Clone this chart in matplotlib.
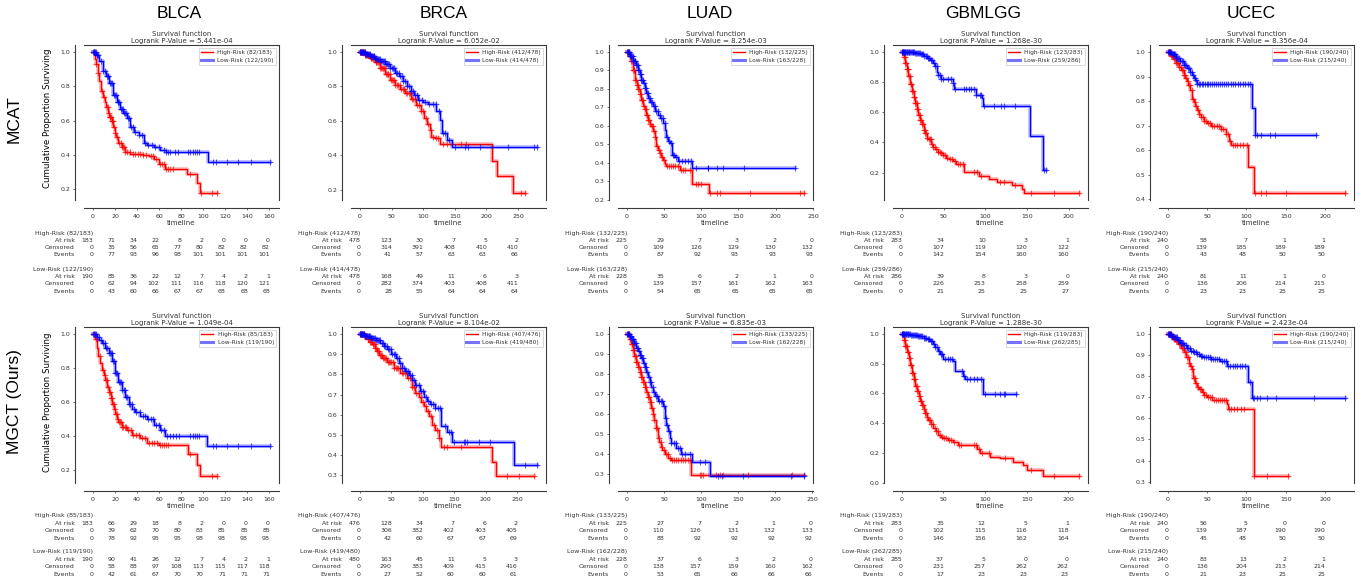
import numpy as np
import matplotlib
matplotlib.use("Agg")
import matplotlib.pyplot as plt
from matplotlib.lines import Line2D
from matplotlib.ticker import MultipleLocator
import matplotlib.transforms as mtrans

# ---------------- labels ----------------
cancers = ["BLCA", "BRCA", "LUAD", "GBMLGG", "UCEC"]
models = ["MCAT", "MGCT (Ours)"]
pvals_mcat = ["5.441e-04", "6.052e-02", "8.254e-03", "1.268e-30", "8.356e-04"]
pvals_mgct = ["1.049e-04", "8.104e-02", "6.835e-03", "1.288e-30", "2.423e-04"]
hi_labels_mcat = ["High-Risk (82/183)", "High-Risk (412/478)", "High-Risk (132/225)", "High-Risk (123/283)", "High-Risk (190/240)"]
lo_labels_mcat = ["Low-Risk (122/190)", "Low-Risk (414/478)", "Low-Risk (163/228)", "Low-Risk (259/286)", "Low-Risk (215/240)"]
hi_labels_mgct = ["High-Risk (85/183)", "High-Risk (407/476)", "High-Risk (133/225)", "High-Risk (119/283)", "High-Risk (190/240)"]
lo_labels_mgct = ["Low-Risk (119/190)", "Low-Risk (419/480)", "Low-Risk (162/228)", "Low-Risk (262/285)", "Low-Risk (215/240)"]
xticks_blca = [0, 20, 40, 60, 80, 100, 120, 140, 160]
xticks_brca = [0, 50, 100, 150, 200, 250]
xticks_luad = [0, 50, 100, 150, 200, 250]
xticks_gbmlgg = [0, 50, 100, 150, 200]
xticks_ucec = [0, 50, 100, 150, 200]
ystep_mcat = [0.2, 0.2, 0.1, 0.2, 0.1]
ystep_mgct = [0.2, 0.1, 0.1, 0.2, 0.1]

# ---------------- MCAT curves ----------------
blca_mcat_hi_t = [0, 1.5, 3, 4.6, 6, 7.7, 9, 10.8, 12, 13.8, 15, 16.9, 18.5, 20, 21, 23, 26, 29, 34, 45, 51, 55, 60, 65, 85, 94, 97]
blca_mcat_hi_s = [1.0, 0.96, 0.93, 0.88, 0.83, 0.77, 0.74, 0.71, 0.68, 0.645, 0.62, 0.60, 0.565, 0.53, 0.506, 0.466, 0.447, 0.417, 0.403, 0.40, 0.39, 0.377, 0.348, 0.318, 0.285, 0.236, 0.177]
blca_mcat_hi_c = [1, 3, 5, 8, 10.5, 12.5, 13.5, 14.5, 15.2, 15.8, 16.4, 17.1, 17.6, 18.2, 19.3, 20.5, 22.2, 24, 25.1, 26.3, 27.2, 28.4, 29.5, 31, 33.4, 36, 38.2, 40.5, 42.3, 45.6, 48, 52.4, 54.8, 57.5, 60.8, 62.5, 64, 66.2, 68.3, 70.1, 72.4, 88, 98.3, 108, 112.9]
blca_mcat_lo_t = [0, 3, 6, 9, 12, 15, 18.5, 21.5, 24.6, 27.7, 30.8, 34, 37, 41.5, 46, 49, 55, 61, 66, 104]
blca_mcat_lo_s = [1.0, 0.98, 0.95, 0.89, 0.86, 0.82, 0.75, 0.71, 0.67, 0.645, 0.615, 0.565, 0.535, 0.515, 0.47, 0.456, 0.445, 0.43, 0.417, 0.357]
blca_mcat_lo_c = [0.4, 0.9, 1.4, 2.1, 2.6, 3.4, 4.2, 5.1, 7.3, 9.5, 11.2, 12.4, 13.3, 14.1, 15.2, 16.3, 17.4, 19.2, 20.1, 21.3, 22.4, 23.2, 24.1, 25.3, 26.2, 27.1, 28.3, 29.2, 30.4, 31.5, 32.6, 34.3, 36.4, 38.5, 41.8, 44.2, 47.3, 50.1, 53.4, 56.2, 59.5, 64.1, 66.3, 68.4, 70.2, 74.1, 77.4, 86.2, 88.1, 90.3, 92.2, 94.1, 96.3, 109.1, 111.2, 121.3, 131.1, 143.2, 160.6]

brca_mcat_hi_t = [0, 8, 16, 24, 32, 40, 48, 56, 64, 72, 80, 88, 96, 102, 106, 110, 113, 118, 126, 208, 216, 242]
brca_mcat_hi_s = [1.0, 0.985, 0.967, 0.94, 0.905, 0.875, 0.84, 0.81, 0.785, 0.765, 0.73, 0.69, 0.655, 0.615, 0.58, 0.547, 0.508, 0.5, 0.465, 0.37, 0.278, 0.182]
brca_mcat_hi_c = [0.6, 1.2, 2.1, 2.9, 3.8, 4.6, 5.5, 6.3, 7.4, 8.2, 9.1, 10.3, 11.2, 12.4, 13.5, 14.3, 15.6, 16.8, 17.7, 18.9, 20.1, 21.4, 22.6, 23.5, 24.8, 26.1, 27.3, 28.6, 29.9, 31.2, 32.5, 33.8, 35.1, 36.4, 37.8, 39.2, 40.6, 42.1, 43.7, 45.2, 46.9, 48.4, 50.2, 52.1, 54.3, 56.2, 58.4, 60.5, 62.7, 65.1, 67.4, 69.8, 72.3, 74.6, 77.2, 79.5, 82.1, 84.6, 87.3, 90.2, 93.4, 97.1, 100.4, 104.5, 108.2, 111.6, 115.3, 120.4, 124.2, 131.5, 138.3, 159.8, 168.2, 254.5, 260.1]
brca_mcat_lo_t = [0, 8, 16, 24, 32, 40, 48, 56, 62, 68, 74, 80, 86, 92, 100, 108, 121, 126, 129, 137, 145]
brca_mcat_lo_s = [1.0, 0.99, 0.977, 0.962, 0.947, 0.93, 0.905, 0.88, 0.86, 0.83, 0.80, 0.775, 0.75, 0.72, 0.71, 0.70, 0.655, 0.605, 0.53, 0.49, 0.446]
brca_mcat_lo_c = [0.3, 0.8, 1.5, 2.3, 3.1, 3.9, 4.8, 5.7, 6.6, 7.5, 8.6, 9.7, 10.8, 11.9, 13.1, 14.2, 15.4, 16.7, 17.9, 19.2, 20.5, 21.8, 23.1, 24.4, 25.7, 27.1, 28.5, 29.9, 31.3, 32.8, 34.3, 35.8, 37.4, 39.1, 40.8, 42.5, 44.3, 46.2, 48.1, 50.1, 52.2, 54.3, 56.5, 58.8, 61.2, 63.6, 66.1, 68.7, 71.3, 74.1, 77.2, 80.4, 83.5, 86.8, 90.3, 94.1, 98.2, 103.5, 109.4, 114.8, 120.2, 125.1, 131.3, 134.6, 140.2, 150.1, 166.3, 170.4, 189.2, 234.1, 275.4, 280.0]

luad_mcat_hi_t = [0, 3, 6, 8, 10.4, 13, 15, 17, 19.4, 22, 24, 26, 28.4, 31, 33, 35, 37.4, 39.6, 42, 44, 46, 48.6, 51, 53, 71, 87, 111]
luad_mcat_hi_s = [1.0, 0.98, 0.95, 0.90, 0.85, 0.82, 0.80, 0.77, 0.74, 0.71, 0.69, 0.66, 0.63, 0.61, 0.60, 0.57, 0.54, 0.49, 0.47, 0.45, 0.43, 0.415, 0.395, 0.38, 0.36, 0.287, 0.236]
luad_mcat_hi_c = [0.8, 1.9, 2.7, 3.6, 4.5, 5.3, 6.2, 7.1, 8.3, 9.2, 10.1, 11.3, 12.2, 13.4, 14.3, 15.5, 16.4, 17.6, 18.5, 19.7, 20.8, 21.9, 23.1, 24.2, 25.4, 26.5, 27.7, 28.9, 30.1, 31.6, 33.2, 34.8, 36.5, 38.3, 40.2, 42.6, 45.1, 47.8, 50.3, 53.6, 56.4, 59.2, 62.5, 65.3, 68.1, 72.4, 75.6, 78.2, 84.3, 93.1, 96.2, 99.5, 112.3, 121.6, 125.3, 165.2, 233.1, 238.2]
luad_mcat_lo_t = [0, 4, 8.1, 12, 14.9, 17, 19.4, 22, 23.9, 26, 28.4, 31, 35, 38, 42, 45, 48.6, 51, 53, 55, 57.7, 60, 64.4, 69, 88]
luad_mcat_lo_s = [1.0, 0.98, 0.95, 0.93, 0.905, 0.88, 0.85, 0.83, 0.805, 0.78, 0.75, 0.73, 0.705, 0.68, 0.66, 0.64, 0.615, 0.58, 0.54, 0.52, 0.505, 0.44, 0.43, 0.41, 0.37]
luad_mcat_lo_c = [0.3, 0.9, 1.6, 2.4, 3.2, 4.1, 5.0, 5.9, 6.8, 7.7, 8.7, 9.6, 10.6, 11.5, 12.5, 13.5, 14.4, 15.4, 16.4, 17.5, 18.5, 19.6, 20.7, 21.8, 22.9, 24.1, 25.3, 26.6, 27.9, 29.3, 30.8, 32.4, 34.1, 35.9, 37.8, 39.7, 41.8, 43.9, 46.2, 48.5, 50.9, 53.5, 56.1, 58.7, 61.5, 63.8, 66.4, 70.2, 74.3, 78.1, 82.4, 86.3, 93.2, 108.4, 109.6, 121.3, 129.2, 157.4, 226.3]

gbmlgg_mcat_hi_t = [0, 2, 3.9, 6, 7.9, 10, 11.8, 14, 15.7, 18, 19.7, 22, 23.6, 26, 27.6, 30, 31.5, 35, 37.4, 40, 43.3, 47, 49.2, 53, 57, 61, 65, 75, 92.5, 104, 114, 132, 144, 147]
gbmlgg_mcat_hi_s = [1.0, 0.97, 0.93, 0.89, 0.84, 0.79, 0.74, 0.70, 0.66, 0.62, 0.58, 0.55, 0.52, 0.48, 0.46, 0.43, 0.42, 0.39, 0.37, 0.355, 0.34, 0.33, 0.32, 0.30, 0.29, 0.275, 0.26, 0.205, 0.18, 0.155, 0.14, 0.12, 0.094, 0.065]
gbmlgg_mcat_hi_c = [0.7, 1.5, 2.6, 3.4, 4.3, 5.2, 6.1, 6.9, 7.8, 8.6, 9.5, 10.4, 11.3, 12.2, 13.1, 14.0, 14.9, 15.8, 16.7, 17.6, 18.5, 19.4, 20.3, 21.2, 22.1, 23.0, 24.0, 25.0, 26.1, 27.2, 28.3, 29.5, 30.7, 32.0, 33.4, 34.8, 36.3, 37.9, 39.6, 41.4, 43.3, 45.2, 47.4, 49.6, 52.1, 54.7, 57.3, 60.2, 63.4, 66.8, 70.3, 73.5, 86.2, 90.4, 95.1, 117.8, 122.3, 135.2, 154.8, 181.9, 212.6]
gbmlgg_mcat_lo_t = [0, 15, 22, 26, 30, 33.5, 37, 39.4, 42, 43.3, 47.2, 61, 63, 88.6, 96.5, 97.6, 153.5, 169.7]
gbmlgg_mcat_lo_s = [1.0, 0.995, 0.99, 0.975, 0.96, 0.95, 0.93, 0.906, 0.87, 0.85, 0.82, 0.795, 0.755, 0.717, 0.695, 0.64, 0.44, 0.216]
gbmlgg_mcat_lo_c = [0.2, 0.6, 1.1, 1.7, 2.3, 2.9, 3.6, 4.3, 5.0, 5.8, 6.6, 7.4, 8.2, 9.1, 10.0, 10.9, 11.8, 12.8, 13.8, 14.8, 15.9, 17.0, 18.1, 19.3, 20.5, 21.7, 23.0, 24.3, 25.6, 27.0, 28.4, 29.9, 31.4, 33.0, 34.6, 36.3, 38.0, 39.8, 41.6, 43.5, 45.4, 47.5, 49.8, 55.2, 58.4, 61.3, 64.2, 74.1, 77.3, 80.2, 83.4, 86.3, 89.5, 93.2, 95.4, 99.1, 110.2, 118.3, 122.4, 135.1, 170.8, 172.6]

ucec_mcat_hi_t = [0, 4, 7.3, 10, 13.7, 17, 20, 22, 24.4, 26, 28.6, 30.8, 33, 35, 37, 39.3, 42, 45.7, 50, 54.3, 67, 73.5, 77.8, 80, 102.6, 110]
ucec_mcat_hi_s = [1.0, 0.985, 0.97, 0.955, 0.94, 0.925, 0.907, 0.895, 0.88, 0.865, 0.845, 0.81, 0.795, 0.78, 0.765, 0.747, 0.735, 0.72, 0.71, 0.70, 0.685, 0.664, 0.636, 0.62, 0.53, 0.425]
ucec_mcat_hi_c = [0.5, 1.3, 2.2, 3.1, 4.0, 5.0, 6.1, 7.2, 8.4, 9.6, 10.9, 12.2, 13.5, 14.8, 16.1, 17.5, 18.9, 20.4, 21.9, 23.5, 25.1, 26.8, 28.5, 30.3, 32.1, 34.0, 35.9, 37.9, 39.9, 42.1, 44.3, 46.6, 49.0, 51.4, 53.9, 56.5, 59.2, 62.0, 64.8, 67.7, 70.6, 73.6, 76.4, 79.2, 82.3, 85.6, 88.2, 91.4, 95.8, 100.1, 110.3, 118.2, 125.4, 150.6, 225.6]
ucec_mcat_lo_t = [0, 5, 10, 15.8, 20, 24.4, 28, 30.8, 33, 35, 37, 107.7, 110.7]
ucec_mcat_lo_s = [1.0, 0.99, 0.975, 0.962, 0.948, 0.935, 0.92, 0.907, 0.895, 0.886, 0.868, 0.772, 0.66]
ucec_mcat_lo_c = [0.3, 0.9, 1.6, 2.4, 3.2, 4.1, 5.1, 6.1, 7.2, 8.3, 9.5, 10.7, 12.0, 13.3, 14.6, 16.0, 17.4, 18.9, 20.4, 21.9, 23.5, 25.1, 26.8, 28.5, 30.3, 32.1, 34.0, 35.8, 37.6, 39.4, 41.3, 43.2, 45.2, 47.3, 49.4, 51.6, 53.8, 56.1, 58.5, 60.9, 63.4, 66.0, 68.6, 71.3, 74.1, 76.9, 79.8, 82.8, 85.9, 89.0, 92.2, 95.5, 98.8, 102.3, 105.1, 111.2, 113.4, 118.3, 130.2, 136.8, 188.5]

# ---------------- MGCT curves ----------------
blca_mgct_hi_t = [0, 2.1, 3.5, 5.1, 6.5, 8.2, 10, 11.2, 13, 14.2, 16, 17.2, 19, 20.2, 22, 23.2, 26.3, 30.8, 35.3, 42.9, 48.9, 60, 86, 94, 97]
blca_mgct_hi_s = [1.0, 0.97, 0.92, 0.87, 0.83, 0.79, 0.76, 0.73, 0.69, 0.66, 0.62, 0.59, 0.56, 0.53, 0.50, 0.48, 0.45, 0.435, 0.405, 0.385, 0.36, 0.345, 0.29, 0.23, 0.163]
blca_mgct_hi_c = [1.1, 3.2, 6.4, 8.8, 10.6, 11.9, 12.8, 13.7, 14.6, 15.4, 16.3, 17.1, 17.9, 18.8, 19.7, 20.6, 21.5, 22.4, 23.4, 24.4, 25.4, 26.5, 27.6, 28.8, 30.2, 32.1, 34.2, 36.5, 39.1, 41.4, 44.2, 47.3, 50.5, 53.2, 55.8, 58.1, 60.4, 62.2, 64.1, 66.3, 68.2, 88.1, 108.3, 112.6]
blca_mgct_lo_t = [0, 3.6, 6, 8.2, 11.2, 14.2, 17.2, 20.2, 23.2, 26.3, 29.3, 32.3, 35.3, 38, 42.9, 48.9, 55, 61, 65.5, 103]
blca_mgct_lo_s = [1.0, 0.98, 0.965, 0.95, 0.92, 0.89, 0.84, 0.77, 0.72, 0.67, 0.627, 0.59, 0.557, 0.54, 0.516, 0.496, 0.466, 0.435, 0.40, 0.34]
blca_mgct_lo_c = [0.4, 1.1, 1.9, 2.8, 3.9, 5.3, 7.1, 9.2, 10.8, 12.1, 13.2, 14.3, 15.2, 16.1, 17.0, 18.0, 19.1, 20.2, 21.2, 22.3, 23.4, 24.5, 25.6, 26.7, 27.8, 28.9, 30.0, 31.1, 32.3, 33.6, 35.2, 37.1, 39.4, 42.3, 45.5, 47.6, 50.2, 52.4, 54.8, 57.2, 59.5, 62.1, 64.3, 67.4, 70.2, 72.5, 75.4, 78.3, 88.2, 90.4, 92.3, 94.5, 96.6, 109.2, 111.3, 121.4, 131.2, 143.1, 160.6]

brca_mgct_hi_t = [0, 6, 11.7, 16, 19.6, 24, 27.5, 31, 35.5, 43.4, 54, 64.6, 75, 83, 88, 93.8, 98, 101.7, 106, 109.6, 115, 120, 125.5, 129, 210, 216.6]
brca_mgct_hi_s = [1.0, 0.99, 0.975, 0.96, 0.95, 0.93, 0.915, 0.895, 0.88, 0.864, 0.83, 0.805, 0.78, 0.737, 0.71, 0.686, 0.665, 0.644, 0.62, 0.593, 0.55, 0.525, 0.483, 0.44, 0.364, 0.297]
brca_mgct_hi_c = [0.5, 1.3, 2.2, 3.1, 4.0, 4.9, 5.9, 6.9, 7.9, 8.9, 10.0, 11.1, 12.2, 13.3, 14.5, 15.7, 16.9, 18.1, 19.4, 20.7, 22.0, 23.3, 24.7, 26.1, 27.5, 29.0, 30.5, 32.0, 33.6, 35.2, 36.9, 38.6, 40.4, 42.2, 44.1, 46.0, 48.0, 50.1, 52.2, 54.4, 56.7, 59.0, 61.4, 63.9, 66.4, 69.0, 71.7, 74.4, 77.2, 80.1, 83.2, 86.5, 89.8, 93.4, 97.1, 100.8, 104.6, 108.2, 112.5, 117.3, 122.4, 126.1, 133.2, 138.6, 160.2, 234.1, 252.4, 276.5]
brca_mgct_lo_t = [0, 8, 17, 25, 32.8, 38, 43.4, 50, 56.7, 62, 67.3, 72, 77.9, 83, 88.5, 95, 101.7, 107, 112.3, 120, 129, 138.8, 146.7, 244.7]
brca_mgct_lo_s = [1.0, 0.993, 0.983, 0.97, 0.958, 0.94, 0.924, 0.90, 0.88, 0.855, 0.83, 0.815, 0.797, 0.77, 0.746, 0.72, 0.69, 0.67, 0.653, 0.636, 0.542, 0.517, 0.466, 0.35]
brca_mgct_lo_c = [0.3, 0.9, 1.6, 2.4, 3.2, 4.1, 5.0, 6.0, 7.0, 8.1, 9.2, 10.3, 11.5, 12.7, 14.0, 15.3, 16.6, 18.0, 19.4, 20.9, 22.4, 24.0, 25.6, 27.3, 29.0, 30.8, 32.6, 34.5, 36.4, 38.4, 40.4, 42.5, 44.7, 46.9, 49.2, 51.6, 54.0, 56.5, 59.1, 61.8, 64.5, 67.3, 70.2, 73.2, 76.3, 79.5, 82.8, 86.2, 89.7, 93.3, 97.0, 100.8, 104.7, 108.4, 112.5, 116.4, 120.3, 124.1, 127.3, 136.2, 141.1, 144.3, 149.8, 165.4, 166.8, 170.1, 189.3, 207.2, 262.1, 282.0]

luad_mgct_hi_t = [0, 3.6, 6, 8.1, 10, 12.6, 15, 17.1, 19, 21.6, 24, 26.1, 28, 30.6, 33, 35.1, 37, 38.7, 41.9, 44, 46.4, 48, 50.9, 55.4, 60, 87]
luad_mgct_hi_s = [1.0, 0.975, 0.95, 0.923, 0.89, 0.863, 0.835, 0.81, 0.785, 0.76, 0.735, 0.71, 0.685, 0.66, 0.63, 0.60, 0.57, 0.53, 0.48, 0.46, 0.437, 0.42, 0.403, 0.38, 0.369, 0.295]
luad_mgct_hi_c = [0.7, 1.6, 2.5, 3.4, 4.4, 5.4, 6.4, 7.4, 8.5, 9.6, 10.7, 11.8, 12.9, 14.0, 15.1, 16.2, 17.3, 18.4, 19.6, 20.8, 22.0, 23.2, 24.4, 25.6, 26.9, 28.2, 29.5, 30.8, 32.2, 33.7, 35.3, 37.0, 38.9, 40.9, 43.1, 45.4, 47.8, 50.2, 52.6, 55.1, 57.8, 60.6, 63.5, 66.4, 69.3, 72.4, 75.6, 78.3, 82.1, 85.2, 98.4, 100.6, 103.2, 120.3, 125.1, 130.2, 163.4, 222.5, 238.2]
luad_mgct_lo_t = [0, 3, 5.9, 9, 12.6, 15, 17.1, 19, 21.6, 24, 26.1, 28, 30.6, 33, 35.1, 38, 41.9, 48.6, 50.9, 53, 55.4, 58, 60, 66.7, 73.4, 87.8, 111.7]
luad_mgct_lo_s = [1.0, 0.99, 0.975, 0.955, 0.932, 0.915, 0.898, 0.88, 0.855, 0.835, 0.81, 0.785, 0.76, 0.735, 0.71, 0.69, 0.667, 0.64, 0.58, 0.545, 0.514, 0.48, 0.454, 0.43, 0.40, 0.36, 0.292]
luad_mgct_lo_c = [0.3, 1.0, 1.8, 2.7, 3.6, 4.5, 5.5, 6.5, 7.6, 8.7, 9.8, 10.9, 12.1, 13.3, 14.5, 15.8, 17.1, 18.5, 19.9, 21.3, 22.8, 24.3, 25.9, 27.5, 29.2, 30.9, 32.7, 34.6, 36.6, 38.7, 40.9, 43.2, 45.6, 48.0, 50.3, 52.4, 54.6, 57.2, 60.1, 62.9, 65.8, 68.7, 71.5, 74.4, 78.2, 85.3, 99.2, 105.4, 122.3, 128.1, 157.2, 221.6, 239.0]

gbmlgg_mgct_hi_t = [0, 2, 4, 6, 8, 10, 12, 14, 16, 18, 20, 22, 24, 26, 28, 30, 32, 35, 38, 41, 44, 47, 50, 56, 62, 68, 90, 94, 106, 118, 134, 146, 150, 170]
gbmlgg_mgct_hi_s = [1.0, 0.96, 0.92, 0.88, 0.84, 0.79, 0.74, 0.695, 0.65, 0.615, 0.58, 0.55, 0.525, 0.495, 0.47, 0.445, 0.423, 0.395, 0.367, 0.345, 0.32, 0.31, 0.30, 0.285, 0.276, 0.253, 0.224, 0.197, 0.174, 0.163, 0.14, 0.118, 0.088, 0.045]
gbmlgg_mgct_hi_c = [0.6, 1.4, 2.3, 3.2, 4.1, 5.0, 5.9, 6.8, 7.7, 8.6, 9.5, 10.4, 11.3, 12.2, 13.1, 14.0, 14.9, 15.8, 16.7, 17.6, 18.5, 19.4, 20.4, 21.4, 22.4, 23.5, 24.6, 25.7, 26.9, 28.1, 29.4, 30.8, 32.3, 33.9, 35.6, 37.4, 39.3, 41.3, 43.4, 45.6, 48.0, 50.6, 53.3, 56.1, 59.4, 62.5, 68.7, 71.3, 86.2, 89.5, 92.4, 96.1, 104.2, 124.3, 155.1, 182.3, 213.0]
gbmlgg_mgct_lo_t = [0, 10, 18, 26, 30, 34, 37, 40, 43, 46, 50, 62, 64, 74, 76, 98]
gbmlgg_mgct_lo_s = [1.0, 0.995, 0.989, 0.977, 0.967, 0.955, 0.935, 0.91, 0.885, 0.864, 0.83, 0.82, 0.75, 0.717, 0.695, 0.597]
gbmlgg_mgct_lo_c = [0.2, 0.6, 1.1, 1.7, 2.3, 3.0, 3.7, 4.4, 5.2, 6.0, 6.9, 7.8, 8.7, 9.7, 10.7, 11.8, 12.9, 14.0, 15.2, 16.4, 17.7, 19.0, 20.4, 21.8, 23.2, 24.7, 26.2, 27.8, 29.4, 31.1, 32.8, 34.6, 36.4, 38.3, 40.2, 42.2, 44.3, 46.5, 48.6, 52.3, 55.4, 58.2, 60.6, 72.2, 74.8, 78.1, 82.3, 86.2, 90.4, 95.1, 99.6, 111.8, 118.2, 122.4, 124.3, 137.0]

ucec_mgct_hi_t = [0, 4, 7.2, 10, 13.6, 17, 19.9, 23, 26.3, 28.5, 30.5, 32.6, 35, 36.9, 40, 43.2, 46, 49.6, 55.9, 75, 77.1, 109]
ucec_mgct_hi_s = [1.0, 0.99, 0.979, 0.967, 0.954, 0.935, 0.914, 0.89, 0.865, 0.85, 0.832, 0.79, 0.77, 0.75, 0.74, 0.726, 0.713, 0.70, 0.686, 0.67, 0.645, 0.327]
ucec_mgct_hi_c = [0.5, 1.4, 2.3, 3.3, 4.3, 5.4, 6.5, 7.7, 8.9, 10.1, 11.4, 12.7, 14.0, 15.4, 16.8, 18.2, 19.7, 21.2, 22.7, 24.3, 25.9, 27.5, 29.2, 30.9, 32.7, 34.5, 36.4, 38.3, 40.3, 42.3, 44.4, 46.5, 48.7, 51.0, 53.3, 55.7, 58.1, 60.6, 63.2, 65.8, 68.5, 71.3, 74.1, 78.3, 80.6, 84.1, 88.2, 92.4, 96.8, 110.2, 126.3, 152.8]
ucec_mgct_lo_t = [0, 5, 11.4, 16, 19.9, 24, 28.4, 33, 36.9, 41, 45.3, 55, 66.5, 75, 102.5, 106.8]
ucec_mgct_lo_s = [1.0, 0.985, 0.971, 0.958, 0.946, 0.934, 0.922, 0.914, 0.906, 0.897, 0.889, 0.88, 0.873, 0.849, 0.775, 0.697]
ucec_mgct_lo_c = [0.3, 1.0, 1.8, 2.6, 3.5, 4.4, 5.4, 6.4, 7.5, 8.6, 9.8, 11.0, 12.3, 13.6, 15.0, 16.4, 17.9, 19.4, 21.0, 22.6, 24.3, 26.0, 27.8, 29.6, 31.5, 33.4, 35.4, 37.4, 39.5, 41.6, 43.8, 46.0, 48.3, 50.6, 53.0, 55.4, 57.9, 60.4, 63.0, 65.6, 68.3, 71.0, 73.8, 76.6, 79.5, 82.4, 85.4, 88.4, 91.5, 94.6, 97.8, 104.1, 107.9, 110.2, 113.3, 117.4, 126.2, 137.3, 186.1, 225.5]

# ---------------- at-risk tables (at risk, censored, events) ----------------
blca_mcat_hi_tab = [[183, 71, 34, 22, 8, 2, 0, 0, 0], [0, 35, 56, 65, 77, 80, 82, 82, 82], [0, 77, 93, 96, 98, 101, 101, 101, 101]]
blca_mcat_lo_tab = [[190, 85, 36, 22, 12, 7, 4, 2, 1], [0, 62, 94, 102, 111, 116, 118, 120, 121], [0, 43, 60, 66, 67, 67, 68, 68, 68]]
brca_mcat_hi_tab = [[478, 123, 30, 7, 5, 2], [0, 314, 391, 408, 410, 410], [0, 41, 57, 63, 63, 66]]
brca_mcat_lo_tab = [[478, 168, 49, 11, 6, 3], [0, 282, 374, 403, 408, 411], [0, 28, 55, 64, 64, 64]]
luad_mcat_hi_tab = [[225, 29, 7, 3, 2, 0], [0, 109, 126, 129, 130, 132], [0, 87, 92, 93, 93, 93]]
luad_mcat_lo_tab = [[228, 35, 6, 2, 1, 0], [0, 139, 157, 161, 162, 163], [0, 54, 65, 65, 65, 65]]
gbmlgg_mcat_hi_tab = [[283, 34, 10, 3, 1], [0, 107, 119, 120, 122], [0, 142, 154, 160, 160]]
gbmlgg_mcat_lo_tab = [[286, 39, 8, 3, 0], [0, 226, 253, 258, 259], [0, 21, 25, 25, 27]]
ucec_mcat_hi_tab = [[240, 58, 7, 1, 1], [0, 139, 185, 189, 189], [0, 43, 48, 50, 50]]
ucec_mcat_lo_tab = [[240, 81, 11, 1, 0], [0, 136, 206, 214, 215], [0, 23, 23, 25, 25]]

blca_mgct_hi_tab = [[183, 66, 29, 18, 8, 2, 0, 0, 0], [0, 39, 62, 70, 80, 83, 85, 85, 85], [0, 78, 92, 95, 95, 98, 98, 98, 98]]
blca_mgct_lo_tab = [[190, 90, 41, 26, 12, 7, 4, 2, 1], [0, 58, 88, 97, 108, 113, 115, 117, 118], [0, 42, 61, 67, 70, 70, 71, 71, 71]]
brca_mgct_hi_tab = [[476, 128, 34, 7, 6, 2], [0, 306, 382, 402, 403, 405], [0, 42, 60, 67, 67, 69]]
brca_mgct_lo_tab = [[480, 163, 45, 11, 5, 3], [0, 290, 383, 409, 415, 416], [0, 27, 52, 60, 60, 61]]
luad_mgct_hi_tab = [[225, 27, 7, 2, 1, 0], [0, 110, 126, 131, 132, 133], [0, 88, 92, 92, 92, 92]]
luad_mgct_lo_tab = [[228, 37, 6, 3, 2, 0], [0, 138, 157, 159, 160, 162], [0, 53, 65, 66, 66, 66]]
gbmlgg_mgct_hi_tab = [[283, 35, 12, 5, 1], [0, 102, 115, 116, 118], [0, 146, 156, 162, 164]]
gbmlgg_mgct_lo_tab = [[285, 37, 5, 0, 0], [0, 231, 257, 262, 262], [0, 17, 23, 23, 23]]
ucec_mgct_hi_tab = [[240, 56, 5, 0, 0], [0, 139, 187, 190, 190], [0, 45, 48, 50, 50]]
ucec_mgct_lo_tab = [[240, 83, 13, 2, 1], [0, 136, 204, 213, 214], [0, 21, 23, 25, 25]]

# ---------------- assemble ----------------
xticks_all = [xticks_blca, xticks_brca, xticks_luad, xticks_gbmlgg, xticks_ucec]
rows = [
    dict(pvals=pvals_mcat, hil=hi_labels_mcat, lol=lo_labels_mcat, ystep=ystep_mcat,
         hi=[(blca_mcat_hi_t, blca_mcat_hi_s, blca_mcat_hi_c), (brca_mcat_hi_t, brca_mcat_hi_s, brca_mcat_hi_c),
             (luad_mcat_hi_t, luad_mcat_hi_s, luad_mcat_hi_c), (gbmlgg_mcat_hi_t, gbmlgg_mcat_hi_s, gbmlgg_mcat_hi_c),
             (ucec_mcat_hi_t, ucec_mcat_hi_s, ucec_mcat_hi_c)],
         lo=[(blca_mcat_lo_t, blca_mcat_lo_s, blca_mcat_lo_c), (brca_mcat_lo_t, brca_mcat_lo_s, brca_mcat_lo_c),
             (luad_mcat_lo_t, luad_mcat_lo_s, luad_mcat_lo_c), (gbmlgg_mcat_lo_t, gbmlgg_mcat_lo_s, gbmlgg_mcat_lo_c),
             (ucec_mcat_lo_t, ucec_mcat_lo_s, ucec_mcat_lo_c)],
         hitab=[blca_mcat_hi_tab, brca_mcat_hi_tab, luad_mcat_hi_tab, gbmlgg_mcat_hi_tab, ucec_mcat_hi_tab],
         lotab=[blca_mcat_lo_tab, brca_mcat_lo_tab, luad_mcat_lo_tab, gbmlgg_mcat_lo_tab, ucec_mcat_lo_tab]),
    dict(pvals=pvals_mgct, hil=hi_labels_mgct, lol=lo_labels_mgct, ystep=ystep_mgct,
         hi=[(blca_mgct_hi_t, blca_mgct_hi_s, blca_mgct_hi_c), (brca_mgct_hi_t, brca_mgct_hi_s, brca_mgct_hi_c),
             (luad_mgct_hi_t, luad_mgct_hi_s, luad_mgct_hi_c), (gbmlgg_mgct_hi_t, gbmlgg_mgct_hi_s, gbmlgg_mgct_hi_c),
             (ucec_mgct_hi_t, ucec_mgct_hi_s, ucec_mgct_hi_c)],
         lo=[(blca_mgct_lo_t, blca_mgct_lo_s, blca_mgct_lo_c), (brca_mgct_lo_t, brca_mgct_lo_s, brca_mgct_lo_c),
             (luad_mgct_lo_t, luad_mgct_lo_s, luad_mgct_lo_c), (gbmlgg_mgct_lo_t, gbmlgg_mgct_lo_s, gbmlgg_mgct_lo_c),
             (ucec_mgct_lo_t, ucec_mgct_lo_s, ucec_mgct_lo_c)],
         hitab=[blca_mgct_hi_tab, brca_mgct_hi_tab, luad_mgct_hi_tab, gbmlgg_mgct_hi_tab, ucec_mgct_hi_tab],
         lotab=[blca_mgct_lo_tab, brca_mgct_lo_tab, luad_mgct_lo_tab, gbmlgg_mgct_lo_tab, ucec_mgct_lo_tab]),
]

# ---------------- layout (pixels) ----------------
W, H, DPI = 1364, 584, 100
AX_L = [84, 351, 618, 893, 1159]
AX_W = 195
ROW_TOP = [45, 327]
ROW_BOT = [200, 483]
COL_CX = [179, 444, 710, 983, 1251]
ROW_LAB = [(14.5, 119.5), (15, 401.5)]
YLAB = [(48, 118.5), (48, 402.5)]
TAB_DY = [33, 40.4, 47.7, 55, 69, 76.6, 84, 91.5]
HEAD_DX = -18
TXT = "#333333"
SPINE = "#3a3a3a"

fig = plt.figure(figsize=(W / DPI, H / DPI), dpi=DPI)
fig.patch.set_facecolor("white")


def fpt(px, py):
    return px / W, 1 - py / H


def km_at(t, s, x):
    idx = np.searchsorted(np.asarray(t, float), np.asarray(x, float), side="right") - 1
    return np.asarray(s, float)[idx]


def draw_curve(ax, t, s, c, color):
    tend = max(max(c), t[-1])
    tt = list(t) + [tend]
    ss = list(s) + [s[-1]]
    ax.step(tt, ss, where="post", color=color, lw=2.8, alpha=0.25)
    ax.step(tt, ss, where="post", color=color, lw=1.0)
    ax.plot(c, km_at(t, s, c), ls="none", marker="+", ms=5, mew=0.8, color=color, alpha=0.65)
    return tend


for r, row in enumerate(rows):
    for k in range(5):
        top, bot = ROW_TOP[r], ROW_BOT[r]
        x0, y0 = fpt(AX_L[k], bot)
        ax = fig.add_axes([x0, y0, AX_W / W, (bot - top) / H])
        t1, s1, c1 = row["hi"][k]
        t2, s2, c2 = row["lo"][k]
        e1 = draw_curve(ax, t1, s1, c1, "red")
        e2 = draw_curve(ax, t2, s2, c2, "blue")
        tmax = max(e1, e2)
        ax.set_xlim(-0.05 * tmax, 1.05 * tmax)
        ax.set_xticks(xticks_all[k])
        ax.yaxis.set_major_locator(MultipleLocator(row["ystep"][k]))
        for side in ["top", "right", "left", "bottom"]:
            ax.spines[side].set_color(SPINE)
            ax.spines[side].set_linewidth(0.8)
        ax.spines["left"].set_position(("outward", 6.5))
        ax.spines["bottom"].set_position(("outward", 6))
        ax.tick_params(labelsize=4.5, length=1.5, width=0.5, color=SPINE, labelcolor=TXT, pad=2)
        ax.tick_params(axis="x", pad=2.5)
        ax.set_xlabel("timeline", fontsize=5, color=TXT, labelpad=0.5)
        ax.set_title("Survival function\nLogrank P-Value = " + row["pvals"][k], fontsize=5, color=TXT, pad=1.5,
                     linespacing=1.15)
        handles = [Line2D([], [], color="red", lw=1.0), Line2D([], [], color="blue", lw=2.2, alpha=0.55)]
        leg = ax.legend(handles, [row["hil"][k], row["lol"][k]], loc="upper right", fontsize=4.2,
                        borderaxespad=0.45, fancybox=False, framealpha=1, edgecolor="#cccccc")
        leg.get_frame().set_linewidth(0.5)
        for txt in leg.get_texts():
            txt.set_color(TXT)

        # at-risk table
        base = mtrans.blended_transform_factory(ax.transData, fig.transFigure)

        def tr(dx):
            return base + mtrans.ScaledTranslation(dx / DPI, 0, fig.dpi_scale_trans)

        ticks = xticks_all[k]
        for g, (lab, tab) in enumerate([(row["hil"][k], row["hitab"][k]), (row["lol"][k], row["lotab"][k])]):
            yl = 1 - (bot + TAB_DY[4 * g]) / H
            fig.text(0, yl, lab, transform=tr(0.5), ha="right", va="center", fontsize=4.5, color=TXT)
            for j, head in enumerate(["At risk", "Censored", "Events"]):
                yy = 1 - (bot + TAB_DY[4 * g + 1 + j]) / H
                fig.text(0, yy, head, transform=tr(HEAD_DX), ha="right", va="center", fontsize=4.5, color=TXT)
                for tk, val in zip(ticks, tab[j]):
                    fig.text(tk, yy, str(val), transform=tr(0.5), ha="right", va="center", fontsize=4.5, color=TXT)

# column titles
for k, name in enumerate(cancers):
    x, y = fpt(COL_CX[k], 13.5)
    fig.text(x, y, name, ha="center", va="center", fontsize=12.5, family="Liberation Sans", color="black")
# row labels
for r, name in enumerate(models):
    x, y = fpt(*ROW_LAB[r])
    fig.text(x, y, name, ha="center", va="center", rotation=90, fontsize=12.5, family="Liberation Sans", color="black")
    x, y = fpt(*YLAB[r])
    fig.text(x, y, "Cumulative Proportion Surviving", ha="center", va="center", rotation=90, fontsize=6.2,
             color="black")

fig.savefig("out.png", dpi=DPI, facecolor="white")
